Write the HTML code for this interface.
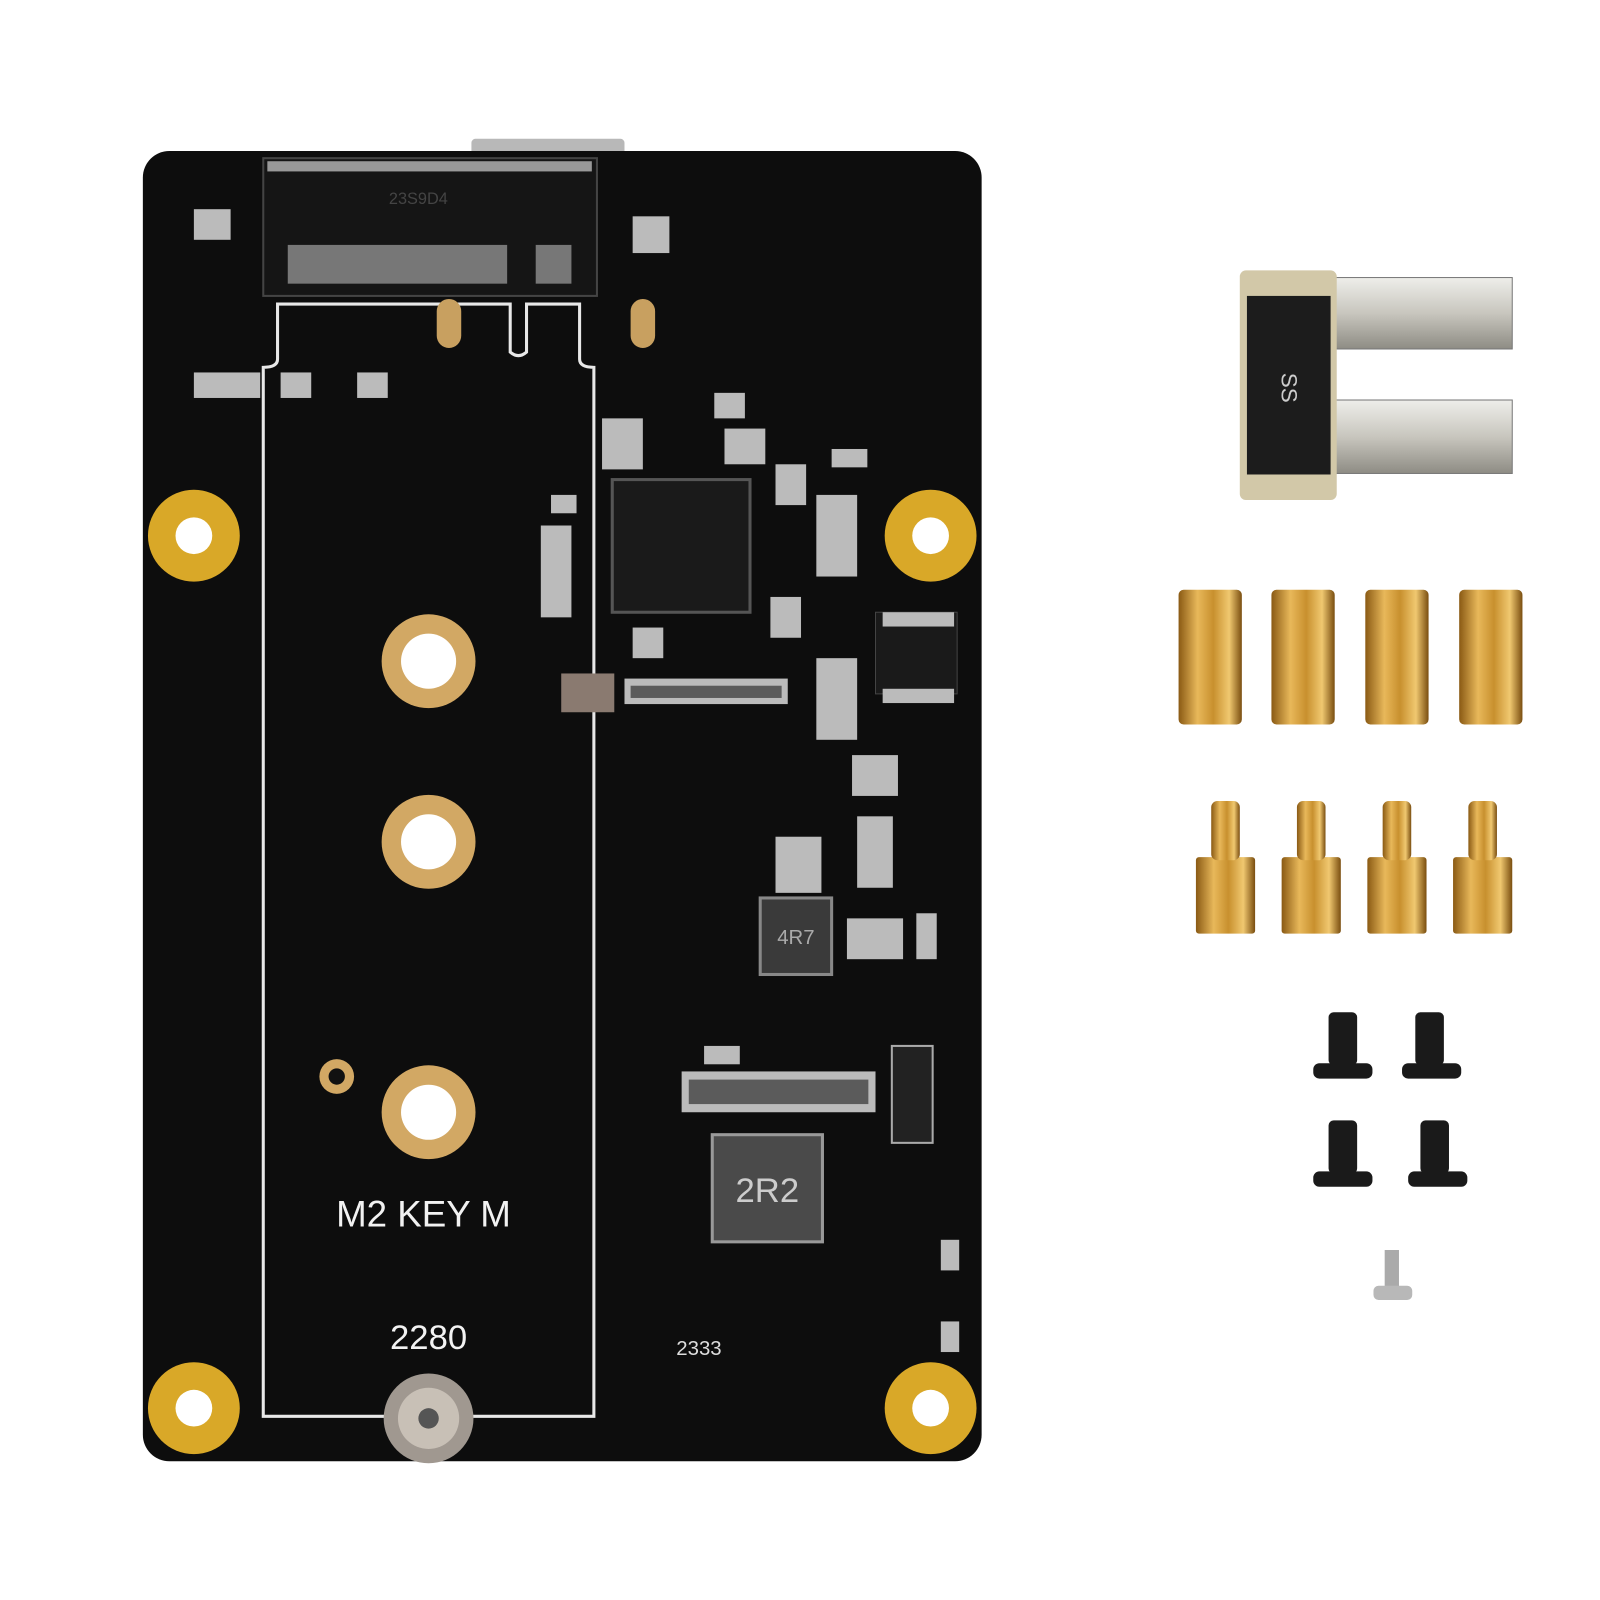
<!DOCTYPE html>
<html><head><meta charset="utf-8"><style>html,body{margin:0;padding:0;background:#fff}svg{display:block}</style></head>
<body>
<svg width="1600" height="1600" viewBox="0 0 1568 1568" xmlns="http://www.w3.org/2000/svg">
<defs>
<linearGradient id="brass" x1="0" x2="1"><stop offset="0" stop-color="#8a5a14"/><stop offset="0.3" stop-color="#e8b85a"/><stop offset="0.55" stop-color="#c8902e"/><stop offset="0.8" stop-color="#f0c870"/><stop offset="1" stop-color="#7a4e10"/></linearGradient>
<linearGradient id="metal" x1="0" y1="0" x2="0" y2="1"><stop offset="0" stop-color="#eeeeea"/><stop offset="0.5" stop-color="#c8c6be"/><stop offset="1" stop-color="#8e8c84"/></linearGradient>
</defs>
<rect width="1568" height="1568" fill="#fff"/>
<rect x="462" y="136" width="150" height="18" rx="4" fill="#b8b8b8"/>
<rect x="140" y="148" width="822" height="1284" rx="26" fill="#0d0d0d"/>
<rect x="258" y="155" width="327" height="135" fill="#151515" stroke="#444" stroke-width="2"/>
<rect x="262" y="158" width="318" height="10" fill="#999"/>
<rect x="282" y="240" width="215" height="38" fill="#777"/>
<rect x="525" y="240" width="35" height="38" fill="#777"/>
<text x="410" y="200" fill="#444" font-family="Liberation Sans, sans-serif" font-size="16" text-anchor="middle">23S9D4</text>
<path d="M272 298 H500 V345 Q508 352 516 345 V298 H568 V352 Q568 360 582 360 V1388 H258 V360 Q272 360 272 352 Z" fill="none" stroke="#e8e8e8" stroke-width="3"/>
<rect x="428" y="293" width="24" height="48" rx="12" fill="#c8a060"/>
<rect x="618" y="293" width="24" height="48" rx="12" fill="#c8a060"/>
<g fill="#d9a828"><circle cx="190" cy="525" r="45"/><circle cx="912" cy="525" r="45"/><circle cx="190" cy="1380" r="45"/><circle cx="912" cy="1380" r="45"/></g>
<g fill="#fff"><circle cx="190" cy="525" r="18"/><circle cx="912" cy="525" r="18"/><circle cx="190" cy="1380" r="18"/><circle cx="912" cy="1380" r="18"/></g>
<g fill="#d2a864"><circle cx="420" cy="648" r="46"/><circle cx="420" cy="825" r="46"/><circle cx="420" cy="1090" r="46"/><circle cx="330" cy="1055" r="17"/></g>
<g fill="#fff"><circle cx="420" cy="648" r="27"/><circle cx="420" cy="825" r="27"/><circle cx="420" cy="1090" r="27"/></g>
<circle cx="330" cy="1055" r="8" fill="#111"/>
<circle cx="420" cy="1390" r="44" fill="#a09890"/><circle cx="420" cy="1390" r="30" fill="#c8c0b6"/><circle cx="420" cy="1390" r="10" fill="#555"/>
<text x="415" y="1202" fill="#f2f2f2" font-family="Liberation Sans, sans-serif" font-size="36" text-anchor="middle">M2 KEY M</text>
<text x="420" y="1322" fill="#f2f2f2" font-family="Liberation Sans, sans-serif" font-size="34" text-anchor="middle">2280</text>
<text x="685" y="1328" fill="#ddd" font-family="Liberation Sans, sans-serif" font-size="20" text-anchor="middle">2333</text>
<rect x="600" y="470" width="135" height="130" fill="#1a1a1a" stroke="#555" stroke-width="3"/>
<rect x="745" y="880" width="70" height="75" fill="#3a3a3a" stroke="#888" stroke-width="3"/>
<text x="780" y="925" fill="#aaa" font-family="Liberation Sans, sans-serif" font-size="20" text-anchor="middle">4R7</text>
<rect x="698" y="1112" width="108" height="105" fill="#4a4a4a" stroke="#999" stroke-width="3"/>
<text x="752" y="1178" fill="#ccc" font-family="Liberation Sans, sans-serif" font-size="34" text-anchor="middle">2R2</text>
<rect x="874" y="1025" width="40" height="95" fill="#222" stroke="#aaa" stroke-width="2"/>
<rect x="550" y="660" width="52" height="38" fill="#8a7a70"/>
<rect x="858" y="600" width="80" height="80" fill="#1a1a1a" stroke="#444"/>
<g fill="#bbb">
<rect x="190" y="205" width="36" height="30"/><rect x="620" y="212" width="36" height="36"/>
<rect x="190" y="365" width="65" height="25"/><rect x="275" y="365" width="30" height="25"/><rect x="350" y="365" width="30" height="25"/>
<rect x="700" y="385" width="30" height="25"/><rect x="815" y="440" width="35" height="18"/>
<rect x="800" y="485" width="40" height="80"/><rect x="540" y="485" width="25" height="18"/>
<rect x="530" y="515" width="30" height="90"/><rect x="612" y="665" width="160" height="25"/>
<rect x="800" y="645" width="40" height="80"/><rect x="865" y="600" width="70" height="14"/><rect x="865" y="675" width="70" height="14"/>
<rect x="835" y="740" width="45" height="40"/><rect x="840" y="800" width="35" height="70"/>
<rect x="760" y="820" width="45" height="55"/><rect x="830" y="900" width="55" height="40"/><rect x="898" y="895" width="20" height="45"/>
<rect x="668" y="1050" width="190" height="40"/><rect x="690" y="1025" width="35" height="18"/>
<rect x="590" y="410" width="40" height="50"/><rect x="710" y="420" width="40" height="35"/><rect x="760" y="455" width="30" height="40"/>
<rect x="755" y="585" width="30" height="40"/><rect x="620" y="615" width="30" height="30"/>
<rect x="922" y="1215" width="18" height="30"/><rect x="922" y="1295" width="18" height="30"/>
</g>
<g fill="#0d0d0d" opacity="0.55">
<rect x="675" y="1058" width="176" height="24"/><rect x="618" y="672" width="148" height="12"/>
</g>
<rect x="1300" y="272" width="182" height="70" fill="url(#metal)" stroke="#777"/>
<rect x="1300" y="392" width="182" height="72" fill="url(#metal)" stroke="#777"/>
<rect x="1215" y="265" width="95" height="225" rx="6" fill="#d2c8a8"/>
<rect x="1222" y="290" width="82" height="175" fill="#1c1c1c"/>
<text x="1262" y="386" fill="#ccc" font-family="Liberation Sans, sans-serif" font-size="22" text-anchor="middle" transform="rotate(90 1262 380)">SS</text>
<g fill="url(#brass)">
<rect x="1155" y="578" width="62" height="132" rx="5"/><rect x="1246" y="578" width="62" height="132" rx="5"/>
<rect x="1338" y="578" width="62" height="132" rx="5"/><rect x="1430" y="578" width="62" height="132" rx="5"/>
<rect x="1172" y="840" width="58" height="75" rx="3"/><rect x="1256" y="840" width="58" height="75" rx="3"/>
<rect x="1340" y="840" width="58" height="75" rx="3"/><rect x="1424" y="840" width="58" height="75" rx="3"/>
<rect x="1187" y="785" width="28" height="58" rx="6"/><rect x="1271" y="785" width="28" height="58" rx="6"/>
<rect x="1355" y="785" width="28" height="58" rx="6"/><rect x="1439" y="785" width="28" height="58" rx="6"/>
</g>
<g fill="#1a1a1a">
<rect x="1302" y="992" width="28" height="52" rx="5"/><rect x="1287" y="1042" width="58" height="15" rx="6"/>
<rect x="1387" y="992" width="28" height="52" rx="5"/><rect x="1374" y="1042" width="58" height="15" rx="6"/>
<rect x="1302" y="1098" width="28" height="52" rx="5"/><rect x="1287" y="1148" width="58" height="15" rx="6"/>
<rect x="1392" y="1098" width="28" height="52" rx="5"/><rect x="1380" y="1148" width="58" height="15" rx="6"/>
</g>
<rect x="1357" y="1225" width="14" height="38" fill="#aaa"/>
<rect x="1346" y="1260" width="38" height="14" rx="5" fill="#b8b8b8"/>
</svg>
</body></html>
